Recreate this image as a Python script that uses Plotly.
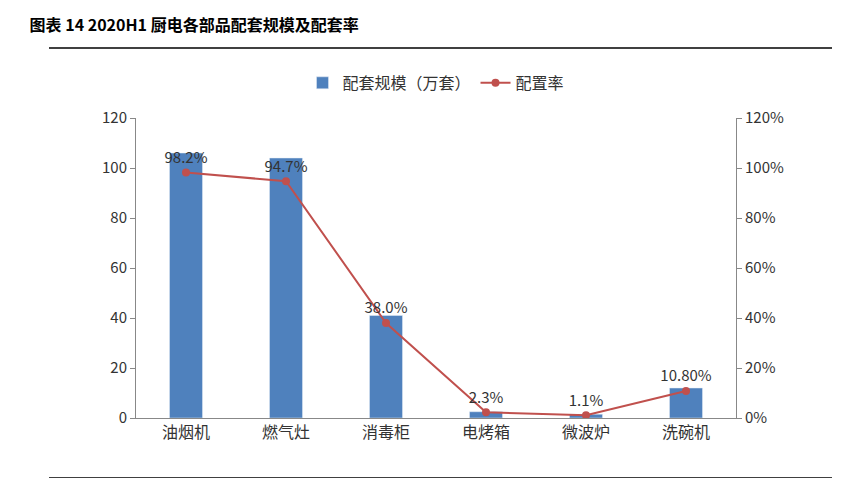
import plotly.graph_objects as go

cats = ["油烟机", "燃气灶", "消毒柜", "电烤箱", "微波炉", "洗碗机"]
scale = [106, 104, 41, 2.5, 1.5, 12]
rate = [98.2, 94.7, 38.0, 2.3, 1.1, 10.8]
rate_labels = ["98.2%", "94.7%", "38.0%", "2.3%", "1.1%", "10.80%"]

F = "Noto Sans CJK SC"
fig = go.Figure()
fig.add_bar(x=cats, y=scale, name="配套规模（万套）", marker_color="#4F81BD", width=0.33)
fig.add_scatter(x=cats, y=rate, name="配置率", yaxis="y2", mode="lines+markers+text",
                line=dict(color="#C0504D", width=2), marker=dict(size=8, color="#C0504D"),
                text=rate_labels, textposition="top center", textfont=dict(size=15, color="#333"))
fig.update_layout(
    width=864, height=478, margin=dict(l=128, r=136, t=110, b=68),
    plot_bgcolor="white", paper_bgcolor="white", font=dict(family=F, size=15, color="#333"),
    bargap=0.5,
    legend=dict(orientation="h", x=0.5, xanchor="center", y=1.117, yanchor="middle", font=dict(size=16)),
    xaxis=dict(showline=True, linecolor="#888", ticks="", tickfont=dict(size=16)),
    yaxis=dict(range=[0, 120], dtick=20, showgrid=False, showline=True, linecolor="#888",
               ticks="outside", ticklen=5, tickcolor="#888"),
    yaxis2=dict(overlaying="y", side="right", range=[0, 120], dtick=20, ticksuffix="%",
                showgrid=False, showline=True, linecolor="#888", ticks="outside", ticklen=5, tickcolor="#888"),
    title=dict(text="<b>图表 14 2020H1 厨电各部品配套规模及配套率</b>", x=0.025, xanchor="left",
               y=0.975, yanchor="top", font=dict(size=16, color="#000")),
    shapes=[dict(type="line", xref="paper", yref="paper", x0=-0.145, x1=1.16, y0=1.233, y1=1.233,
                 line=dict(color="#000", width=1.5)),
            dict(type="line", xref="paper", yref="paper", x0=-0.145, x1=1.16, y0=-0.2, y1=-0.2,
                 line=dict(color="#000", width=1.5))],
)
fig.write_html("out.html")
